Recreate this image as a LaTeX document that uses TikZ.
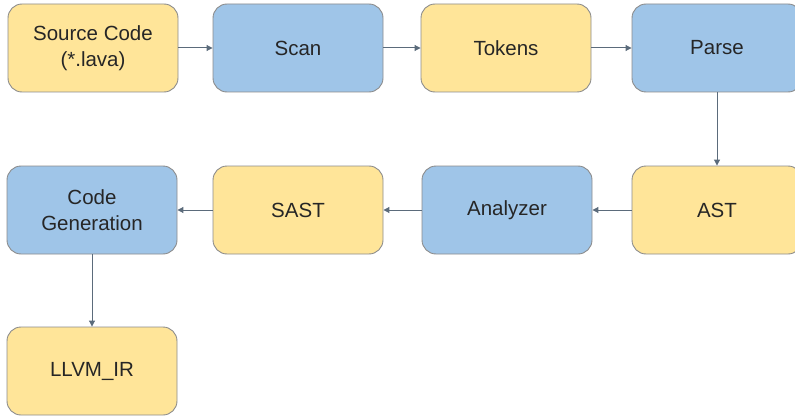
\documentclass[tikz,border=0pt]{standalone}
\usepackage{fontspec}
\setmainfont{Liberation Sans}
\usepackage[HTML]{xcolor}
\usetikzlibrary{positioning, arrows.meta}

\definecolor{boxyellow}{HTML}{FFE599}
\definecolor{boxblue}{HTML}{9FC5E8}
\definecolor{boxline}{HTML}{8C8C8C}
\definecolor{flowline}{HTML}{5B6B7B}

\tikzset{
  stage/.style={draw=boxline, line width=0.9pt, rounded corners=14pt,
    minimum width=170pt, minimum height=88pt, inner sep=0pt,
    align=center, font=\fontsize{20.5}{26}\selectfont, text=black!85},
  data/.style={stage, fill=boxyellow},
  pass/.style={stage, fill=boxblue},
  flow/.style={-{Triangle[length=6pt,width=6pt]}, draw=flowline, line width=1pt}
}

\begin{document}
\begin{tikzpicture}[x=1pt,y=1pt]
\useasboundingbox (0,0) rectangle (795,416);
% first row
\node[data] (src) at (93,368) {Source Code\\(*.lava)};
\node[pass] (scan) at (298,368) {Scan};
\node[data] (tok) at (506,368) {Tokens};
\node[pass] (parse) at (717,368) {Parse};
% second row
\node[data] (ast) at (717,206) {AST};
\node[pass] (ana) at (507,206) {Analyzer};
\node[data] (sast) at (298,206) {SAST};
\node[pass] (gen) at (92,206) {Code\\Generation};
% last
\node[data] (ir) at (92,45) {LLVM\_IR};
% arrows
\draw[flow] (src) -- (scan);
\draw[flow] (scan) -- (tok);
\draw[flow] (tok) -- (parse);
\draw[flow] (parse) -- (ast);
\draw[flow] (ast) -- (ana);
\draw[flow] (ana) -- (sast);
\draw[flow] (sast) -- (gen);
\draw[flow] (gen) -- (ir);
\end{tikzpicture}
\end{document}
